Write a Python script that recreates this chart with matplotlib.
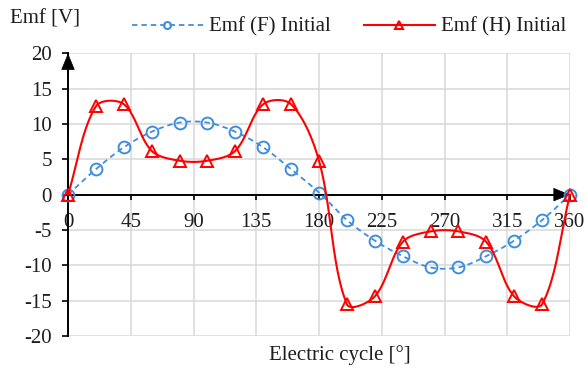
import numpy as np
import matplotlib
matplotlib.use("Agg")
import matplotlib.pyplot as plt
from matplotlib.lines import Line2D

# ---- data ----
angles = [0, 20, 40, 60, 80, 100, 120, 140, 160, 180,
          200, 220, 240, 260, 280, 300, 320, 340, 360]
emf_f = [0, 3.6, 6.7, 8.9, 10.2, 10.2, 8.9, 6.7, 3.6, 0.3,
         -3.6, -6.5, -8.7, -10.3, -10.3, -8.7, -6.5, -3.6, 0]
emf_h = [0, 12.5, 12.8, 6.2, 4.8, 4.8, 6.2, 12.8, 12.8, 4.8,
         -15.5, -14.4, -6.7, -5.2, -5.2, -6.7, -14.4, -15.5, 0]
xticks = [0, 45, 90, 135, 180, 225, 270, 315, 360]
yticks = [-20, -15, -10, -5, 0, 5, 10, 15, 20]
label_f = "Emf (F) Initial"
label_h = "Emf (H) Initial"

BLUE = "#3F8EDB"
RED = "#FF0000"
GRID = "#D9D9D9"
TXT = "#1E1E1E"

W, H = 587, 370
AX_L, AX_R, AX_T, AX_B = 68, 570, 53.3, 336
SX = (AX_R - AX_L) / 360.0    # px per degree
SY = (AX_B - AX_T) / 40.0     # px per volt


def smooth(x, y, n=40):
    # smoothing with chord-length weighted tangents (screen space)
    pts = np.column_stack([np.asarray(x, float) * SX, np.asarray(y, float) * SY])
    out = []
    m = len(pts)
    for i in range(m - 1):
        p0 = pts[i - 1] if i > 0 else pts[i]
        p1 = pts[i]
        p2 = pts[i + 1]
        p3 = pts[i + 2] if i + 2 < m else pts[i + 1]
        d01 = np.hypot(*(p1 - p0))
        d12 = np.hypot(*(p2 - p1))
        d23 = np.hypot(*(p3 - p2))
        r1 = d12 / (d01 + d12) / 3.0 if (d01 + d12) > 0 else 0
        r2 = d12 / (d12 + d23) / 3.0 if (d12 + d23) > 0 else 0
        c1 = p1 + (p2 - p0) * r1
        c2 = p2 - (p3 - p1) * r2
        t = np.linspace(0, 1, n)[:, None]
        seg = ((1 - t) ** 3) * p1 + 3 * ((1 - t) ** 2) * t * c1 + 3 * (1 - t) * t ** 2 * c2 + t ** 3 * p2
        out.append(seg if i == 0 else seg[1:])
    s = np.vstack(out)
    return s[:, 0] / SX, s[:, 1] / SY


plt.rcParams['font.family'] = ['Liberation Serif', 'DejaVu Serif']
plt.rcParams['font.size'] = 15
plt.rcParams['axes.unicode_minus'] = False

fig = plt.figure(figsize=(W / 100, H / 100), dpi=100)
ax = fig.add_axes([AX_L / W, 1 - AX_B / H, (AX_R - AX_L) / W, (AX_B - AX_T) / H])
ax.set_xlim(0, 360)
ax.set_ylim(-20, 20)

ax.set_xticks(xticks)
ax.set_yticks(yticks)
ax.grid(True, color=GRID, lw=1.1, zorder=0)
ax.set_axisbelow(True)

for s in ['top', 'right']:
    ax.spines[s].set_visible(False)
ax.spines['bottom'].set_position(('data', 0))
ax.spines['left'].set_position(('data', 0))
for s in ['bottom', 'left']:
    ax.spines[s].set_color('black')
    ax.spines[s].set_linewidth(1.4)
    ax.spines[s].set_zorder(3)

ax.tick_params(axis='x', direction='out', length=3.5, width=1.2, pad=10, labelsize=15, labelcolor=TXT)
ax.tick_params(axis='y', direction='out', length=4.5, width=1.2, pad=7, labelsize=15, labelcolor=TXT)
ax.tick_params(axis='both', color='black')

# arrow heads
astyle = '-|>,head_length=1.1,head_width=0.45'
ax.annotate('', xy=(360, 0), xytext=(352, 0),
            arrowprops=dict(arrowstyle=astyle, color='black', lw=0.5,
                            mutation_scale=10, shrinkA=0, shrinkB=0),
            annotation_clip=False, zorder=4)
ax.annotate('', xy=(0, 20), xytext=(0, 17),
            arrowprops=dict(arrowstyle=astyle, color='black', lw=0.5,
                            mutation_scale=10, shrinkA=0, shrinkB=0),
            annotation_clip=False, zorder=4)

# series F
xs, ys = smooth(angles, emf_f)
ax.plot(xs, ys, color=BLUE, lw=1.3, ls=(0, (3, 2.2)), zorder=5, clip_on=False)
ax.plot(angles, emf_f, ls='none', marker='o', ms=8.5, mfc='none', mec=BLUE, mew=1.4,
        zorder=6, clip_on=False)

# series H
xs, ys = smooth(angles, emf_h)
ax.plot(xs, ys, color=RED, lw=1.5, zorder=7, clip_on=False)
ax.plot(angles, emf_h, ls='none', marker='^', ms=9, mfc='none', mec=RED, mew=1.4,
        zorder=8, clip_on=False)

handles = [
    Line2D([], [], color=BLUE, lw=1.3, ls=(0, (3, 2.2)), marker='o', ms=5, mfc='none', mec=BLUE, mew=1.5),
    Line2D([], [], color=RED, lw=1.5, marker='^', ms=5.5, mfc='none', mec=RED, mew=1.5),
]
fig.legend(handles, [label_f, label_h], loc='center', bbox_to_anchor=(349 / W, 1 - 27 / H),
           ncol=2, frameon=False, handlelength=3.4, handletextpad=0.3, columnspacing=1.6,
           fontsize=15, borderpad=0, borderaxespad=0, numpoints=1, labelcolor=TXT)

fig.text(10 / W, 1 - 19 / H, "Emf [V]", ha='left', va='center', fontsize=15, color=TXT)
fig.text(340 / W, 1 - 355 / H, "Electric cycle [°]", ha='center', va='center', fontsize=15, color=TXT)

fig.savefig("out.png", dpi=100)
